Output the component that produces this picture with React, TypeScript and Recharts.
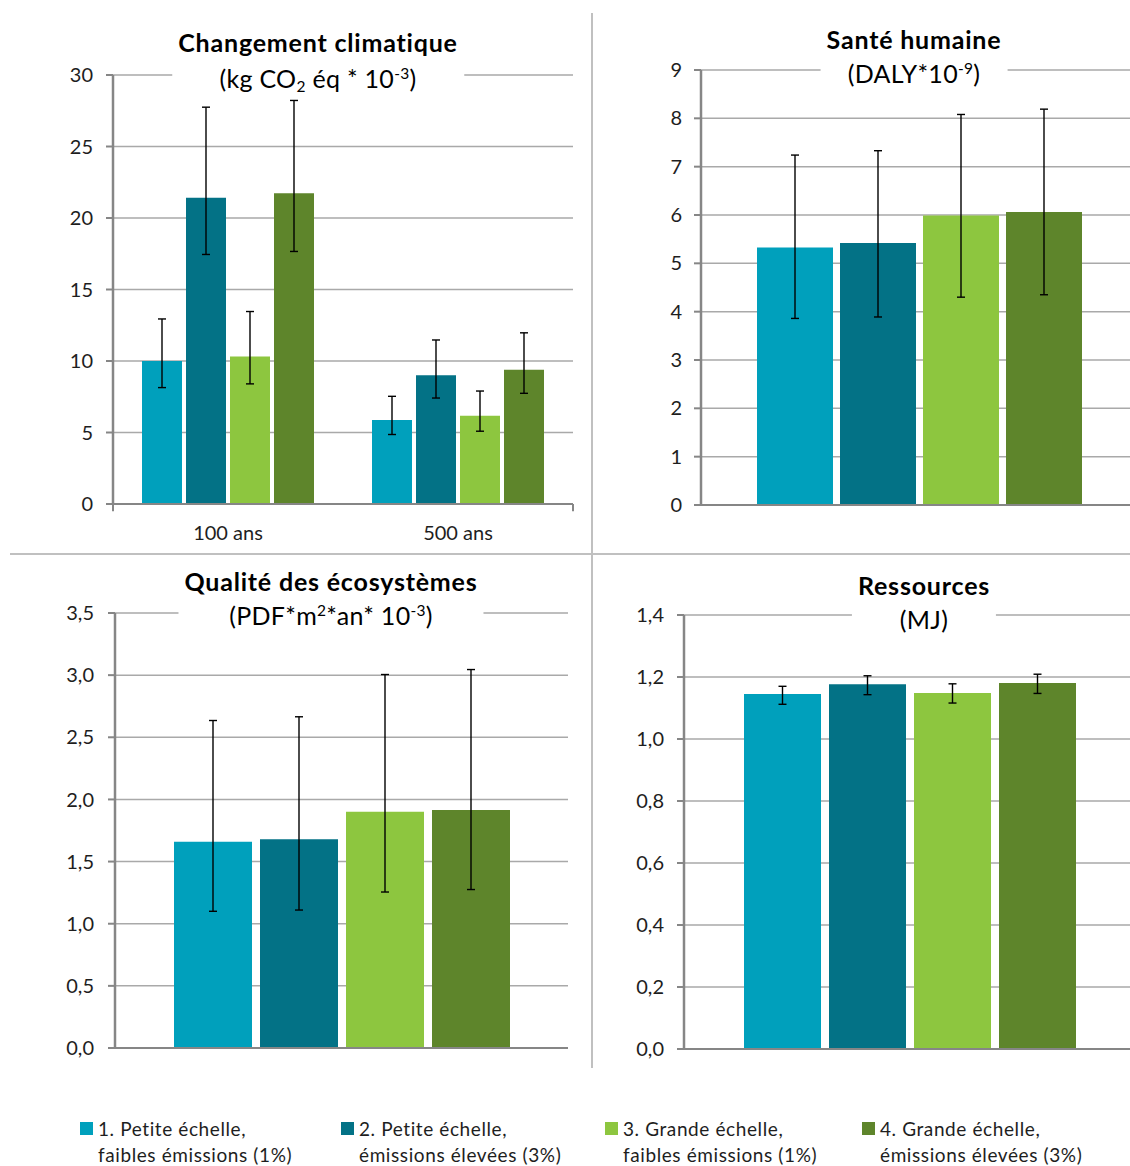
import React from "react";
import {
  BarChart,
  Bar,
  XAxis,
  YAxis,
  CartesianGrid,
  ErrorBar,
  ReferenceLine,
} from "recharts";

// Scénarios (séries) et couleurs
const seriesNames = [
  "1. Petite échelle, faibles émissions (1%)",
  "2. Petite échelle, émissions élevées (3%)",
  "3. Grande échelle, faibles émissions (1%)",
  "4. Grande échelle, émissions élevées (3%)",
];
const seriesColors = ["#00A0BC", "#037286", "#8DC63F", "#5E852B"];

// Changement climatique (kg CO2 éq * 10^-3), par horizon temporel
const climateHorizons = ["100 ans", "500 ans"];
const climateMean1 = [10.0, 5.88];
const climateMean2 = [21.42, 9.01];
const climateMean3 = [10.31, 6.18];
const climateMean4 = [21.73, 9.39];
const climateLow1 = [8.14, 4.86];
const climateLow2 = [17.45, 7.41];
const climateLow3 = [8.4, 5.09];
const climateLow4 = [17.66, 7.74];
const climateHigh1 = [12.94, 7.53];
const climateHigh2 = [27.75, 11.47];
const climateHigh3 = [13.46, 7.9];
const climateHigh4 = [28.22, 11.97];
const climateTicks = [0, 5, 10, 15, 20, 25, 30];

// Santé humaine (DALY * 10^-9), une valeur par scénario
const healthMean = [5.33, 5.42, 5.99, 6.06];
const healthLow = [3.86, 3.89, 4.3, 4.35];
const healthHigh = [7.24, 7.33, 8.08, 8.19];
const healthTicks = [0, 1, 2, 3, 4, 5, 6, 7, 8, 9];

// Qualité des écosystèmes (PDF*m²*an * 10^-3)
const ecoMean = [1.66, 1.68, 1.9, 1.915];
const ecoLow = [1.1, 1.11, 1.255, 1.275];
const ecoHigh = [2.635, 2.665, 3.005, 3.045];
const ecoTicks = [0, 0.5, 1, 1.5, 2, 2.5, 3, 3.5];

// Ressources (MJ)
const resMean = [1.145, 1.177, 1.148, 1.181];
const resLow = [1.112, 1.143, 1.116, 1.147];
const resHigh = [1.17, 1.204, 1.178, 1.209];
const resTicks = [0, 0.2, 0.4, 0.6, 0.8, 1, 1.2, 1.4];

const FONT = "Lato, 'Open Sans', sans-serif";
const GRID = "#a9a9a9";
const AXIS = "#868686";
const TEXT = "#1e1e1e";

const climateMeans = [climateMean1, climateMean2, climateMean3, climateMean4];
const climateLows = [climateLow1, climateLow2, climateLow3, climateLow4];
const climateHighs = [climateHigh1, climateHigh2, climateHigh3, climateHigh4];

const climateRows = climateHorizons.map((h, i) => {
  const row: Record<string, unknown> = { cat: h };
  for (let s = 0; s < 4; s++) {
    const m = climateMeans[s][i];
    row["s" + s] = m;
    row["e" + s] = [m - climateLows[s][i], climateHighs[s][i] - m];
  }
  return row;
});

function singleRow(means: number[], lows: number[], highs: number[]) {
  const row: Record<string, unknown> = { cat: "" };
  means.forEach((m, s) => {
    row["s" + s] = m;
    row["e" + s] = [m - lows[s], highs[s] - m];
  });
  return [row];
}

const healthRows = singleRow(healthMean, healthLow, healthHigh);
const ecoRows = singleRow(ecoMean, ecoLow, ecoHigh);
const resRows = singleRow(resMean, resLow, resHigh);

const intFmt = (v: number) => String(v);
const decFmt = (v: number) => v.toFixed(1).replace(".", ",");

type PanelProps = {
  rows: Record<string, unknown>[];
  ticks: number[];
  fmt: (v: number) => string;
  left: number;
  top: number;
  width: number;
  height: number;
  marginTop: number;
  marginRight: number;
  marginBottom: number;
  yWidth: number;
  tickMargin: number;
  barSize: number;
  barGap: number;
  showCategories?: boolean;
};

function Panel(p: PanelProps) {
  const max = p.ticks[p.ticks.length - 1];
  return (
    <div style={{ position: "absolute", left: p.left, top: p.top }}>
      <BarChart
        width={p.width}
        height={p.height}
        data={p.rows}
        margin={{
          top: p.marginTop,
          right: p.marginRight,
          bottom: p.marginBottom,
          left: 0,
        }}
        barGap={p.barGap}
        barCategoryGap={0}
      >
        <CartesianGrid
          horizontal
          vertical={false}
          stroke={GRID}
          strokeWidth={1.5}
          xAxisId="cat"
        />
        <XAxis
          xAxisId="cat"
          dataKey="cat"
          type="category"
          height={p.showCategories ? 40 : 2}
          tick={
            p.showCategories
              ? { fill: TEXT, fontSize: 20, fontFamily: FONT }
              : false
          }
          tickLine={false}
          tickSize={0}
          tickMargin={22}
          axisLine={{ stroke: AXIS, strokeWidth: 2 }}
          interval={0}
        />
        {p.showCategories && (
          <XAxis
            xAxisId="edges"
            type="number"
            domain={[0, p.rows.length]}
            orientation="top"
            hide
          />
        )}
        <YAxis
          width={p.yWidth}
          domain={[0, max]}
          ticks={p.ticks}
          interval={0}
          tickFormatter={p.fmt}
          tick={{ fill: TEXT, fontSize: 20, fontFamily: FONT }}
          tickSize={7}
          tickMargin={p.tickMargin}
          tickLine={{ stroke: AXIS, strokeWidth: 2 }}
          axisLine={{ stroke: AXIS, strokeWidth: 2.5 }}
          allowDataOverflow
        />
        {p.showCategories &&
          Array.from({ length: p.rows.length + 1 }, (_, k) => (
            <ReferenceLine
              key={"edge" + k}
              xAxisId="edges"
              segment={[
                { x: k, y: 0 },
                { x: k, y: -max * 0.017 },
              ]}
              stroke={AXIS}
              strokeWidth={2}
              ifOverflow="visible"
            />
          ))}
        {seriesNames.map((name, s) => (
          <Bar
            key={name}
            xAxisId="cat"
            dataKey={"s" + s}
            name={name}
            fill={seriesColors[s]}
            barSize={p.barSize}
            isAnimationActive={false}
          >
            <ErrorBar
              dataKey={"e" + s}
              direction="y"
              width={4}
              stroke="#000"
              strokeWidth={1.4}
              isAnimationActive={false}
            />
          </Bar>
        ))}
      </BarChart>
    </div>
  );
}

const supStyle: React.CSSProperties = {
  fontSize: "0.62em",
  position: "relative",
  top: "-0.55em",
  lineHeight: 0,
};
const subStyle: React.CSSProperties = {
  fontSize: "0.62em",
  position: "relative",
  top: "0.3em",
  lineHeight: 0,
};

function Title(props: {
  cx: number;
  top: number;
  lh: number;
  title: string;
  subtitle: React.ReactNode;
}) {
  return (
    <div
      style={{
        position: "absolute",
        left: props.cx,
        top: props.top,
        transform: "translateX(-50%)",
        background: "#fff",
        padding: "0 6px",
        textAlign: "center",
        whiteSpace: "nowrap",
        fontFamily: FONT,
        fontSize: 25,
        lineHeight: props.lh + "px",
        color: "#000",
      }}
    >
      <div style={{ fontWeight: 700, letterSpacing: 0.8 }}>{props.title}</div>
      <div style={{ letterSpacing: 0.3 }}>{props.subtitle}</div>
    </div>
  );
}

const legendX = [80, 341, 605, 862];

function Legend() {
  return (
    <>
      {seriesNames.map((name, s) => {
        const cut = name.indexOf(", ") + 1;
        const line1 = name.slice(0, cut);
        const line2 = name.slice(cut + 1);
        return (
          <div key={name}>
            <div
              style={{
                position: "absolute",
                left: legendX[s],
                top: 1122,
                width: 13,
                height: 13,
                background: seriesColors[s],
              }}
            />
            <div
              style={{
                position: "absolute",
                left: legendX[s] + 18,
                top: 1116,
                fontFamily: FONT,
                fontSize: 19,
                letterSpacing: 0.6,
                lineHeight: "26px",
                color: TEXT,
                whiteSpace: "nowrap",
              }}
            >
              <div>{line1}</div>
              <div>{line2}</div>
            </div>
          </div>
        );
      })}
    </>
  );
}

export default function App() {
  return (
    <div
      style={{
        position: "absolute",
        left: 0,
        top: 0,
        width: 1130,
        height: 1166,
        overflow: "hidden",
        background: "#fff",
      }}
    >
      {/* séparateurs entre les quatre graphiques */}
      <div
        style={{
          position: "absolute",
          left: 591,
          top: 13,
          width: 2,
          height: 1055,
          background: "#c0c0c0",
        }}
      />
      <div
        style={{
          position: "absolute",
          left: 10,
          top: 553,
          width: 1120,
          height: 2,
          background: "#c0c0c0",
        }}
      />

      <Panel
        rows={climateRows}
        ticks={climateTicks}
        fmt={intFmt}
        left={40}
        top={0}
        width={535}
        height={544}
        marginTop={75}
        marginRight={2}
        marginBottom={0}
        yWidth={73}
        tickMargin={13}
        barSize={40}
        barGap={4}
        showCategories
      />
      <Panel
        rows={healthRows}
        ticks={healthTicks}
        fmt={intFmt}
        left={620}
        top={0}
        width={518}
        height={521}
        marginTop={70}
        marginRight={0}
        marginBottom={14}
        yWidth={81}
        tickMargin={12}
        barSize={76}
        barGap={7}
      />
      <Panel
        rows={ecoRows}
        ticks={ecoTicks}
        fmt={decFmt}
        left={40}
        top={560}
        width={528}
        height={504}
        marginTop={53}
        marginRight={0}
        marginBottom={14}
        yWidth={75}
        tickMargin={14}
        barSize={78}
        barGap={8}
      />
      <Panel
        rows={resRows}
        ticks={resTicks}
        fmt={decFmt}
        left={610}
        top={560}
        width={526}
        height={505}
        marginTop={55}
        marginRight={0}
        marginBottom={14}
        yWidth={74}
        tickMargin={13}
        barSize={77}
        barGap={8}
      />

      <Title
        cx={318}
        top={25}
        lh={35.5}
        title="Changement climatique"
        subtitle={
          <>
            (kg CO<span style={subStyle}>2</span> éq * 10
            <span style={supStyle}>-3</span>)
          </>
        }
      />
      <Title
        cx={914}
        top={22}
        lh={34}
        title="Santé humaine"
        subtitle={
          <>
            (DALY*10<span style={supStyle}>-9</span>)
          </>
        }
      />
      <Title
        cx={331}
        top={565}
        lh={33.5}
        title="Qualité des écosystèmes"
        subtitle={
          <>
            (PDF*m<span style={supStyle}>2</span>*an* 10
            <span style={supStyle}>-3</span>)
          </>
        }
      />
      <Title
        cx={924}
        top={568}
        lh={34}
        title="Ressources"
        subtitle="(MJ)"
      />

      <Legend />
    </div>
  );
}
